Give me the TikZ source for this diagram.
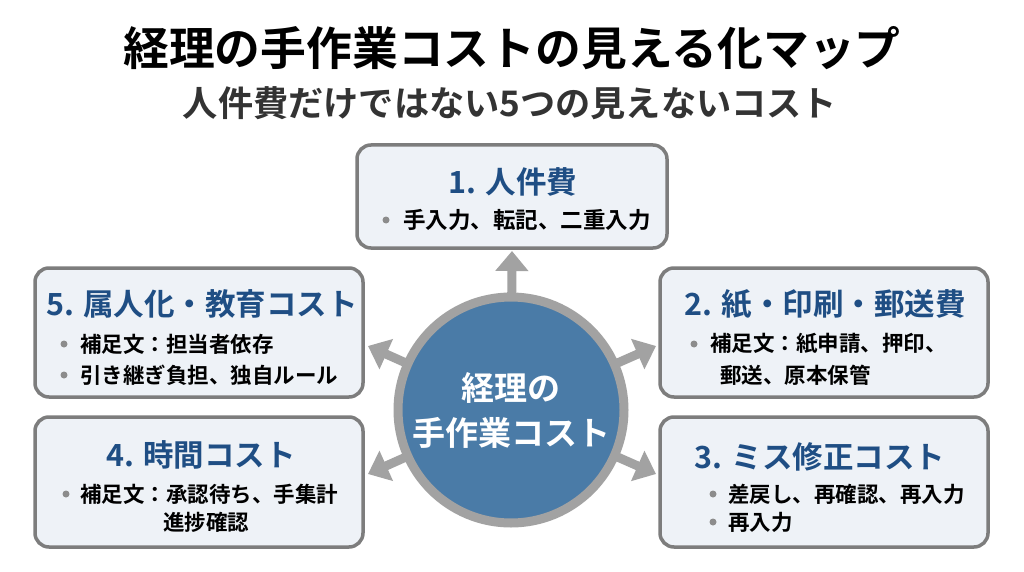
\documentclass[tikz,border=0pt]{standalone}
\usepackage{fontspec}
\setmainfont{Noto Sans CJK JP}[BoldFont={Noto Sans CJK JP Bold}]
\usetikzlibrary{arrows.meta}
\definecolor{boxfill}{HTML}{EEF2F7}
\definecolor{boxline}{HTML}{7D7D7D}
\definecolor{titleblue}{HTML}{1F4E84}
\definecolor{circfill}{HTML}{4A7BA7}
\definecolor{ringgray}{HTML}{A2A2A2}
\definecolor{subgray}{HTML}{333333}
\definecolor{bulletgray}{HTML}{8C8C8C}
\tikzset{
  box/.style={draw=boxline, line width=3.5pt, rounded corners=14pt, fill=boxfill, inner sep=0pt},
  btitle/.style={text=titleblue, font=\bfseries\fontsize{30.5}{34}\selectfont, inner sep=0pt},
  bline/.style={anchor=west, text=black, font=\bfseries\fontsize{21.5}{26}\selectfont, inner sep=0pt},
  arr/.style={draw=ringgray, line width=9pt, -{Triangle[width=32pt,length=20pt]}},
  bul/.style={fill=bulletgray}
}
\begin{document}
\begin{tikzpicture}[x=1pt,y=-1pt]
\useasboundingbox[fill=white] (0,0) rectangle (1024,572);
% headings
\node[font=\bfseries\fontsize{45.8}{50}\selectfont, text=black, inner sep=0pt] (title) at (512,48) {経理の手作業コストの見える化マップ};
\node[font=\bfseries\fontsize{35.2}{40}\selectfont, text=subgray, inner sep=0pt] (subtitle) at (510,103) {人件費だけではない5つの見えないコスト};
% boxes
\node[box, minimum width=310pt, minimum height=103pt] (b1) at (512,196.5) {};
\node[box, minimum width=328pt, minimum height=129pt] (b5) at (199,332.5) {};
\node[box, minimum width=328pt, minimum height=129pt] (b2) at (824,332.5) {};
\node[box, minimum width=328pt, minimum height=130pt] (b4) at (199,482) {};
\node[box, minimum width=328pt, minimum height=130pt] (b3) at (824,482) {};
% box 1
\node[btitle] (t1) at (513,182) {1. 人件費};
\fill[bul] (386,220) circle (3.5);
\node[bline, font=\bfseries\fontsize{22.5}{26}\selectfont] (l11) at (403,220) {手入力、転記、二重入力};
% box 5
\node[btitle] (t5) at (202,304) {5. 属人化・教育コスト};
\fill[bul] (64,344) circle (3.5);
\node[bline] (l51) at (80,344) {補足文：担当者依存};
\fill[bul] (64,375) circle (3.5);
\node[bline] (l52) at (80,375) {引き継ぎ負担、独自ルール};
% box 2
\node[btitle] (t2) at (825,304) {2. 紙・印刷・郵送費};
\fill[bul] (694,344) circle (3.5);
\node[bline] (l21) at (710,344) {補足文：紙申請、押印、};
\node[bline] (l22) at (720,375) {郵送、原本保管};
% box 4
\node[btitle] (t4) at (201,455) {4. 時間コスト};
\fill[bul] (66,494) circle (3.5);
\node[bline] (l41) at (80,494) {補足文：承認待ち、手集計};
\node[bline] (l42) at (163,522) {進捗確認};
% box 3
\node[btitle] (t3) at (820,457) {3. ミス修正コスト};
\fill[bul] (713,494) circle (3.5);
\node[bline] (l31) at (728,494) {差戻し、再確認、再入力};
\fill[bul] (713,522) circle (3.5);
\node[bline] (l32) at (728,522) {再入力};
% centre circle
\node[circle, draw=ringgray, line width=9pt, fill=circfill, minimum size=226pt, inner sep=0pt,
      align=center, text=white, font=\bfseries\fontsize{33}{45}\selectfont] (c) at (511,410) {経理の\\手作業コスト};
% arrow tips
\coordinate (a1) at (512,251);
\coordinate (a5) at (368,346);
\coordinate (a2) at (656,346);
\coordinate (a4) at (368,474);
\coordinate (a3) at (656,474);
\draw[arr, shorten <=-4pt] (c) -- (a1);
\draw[arr, shorten <=-4pt] (c) -- (a5);
\draw[arr, shorten <=-4pt] (c) -- (a2);
\draw[arr, shorten <=-4pt] (c) -- (a4);
\draw[arr, shorten <=-4pt] (c) -- (a3);
\end{tikzpicture}
\end{document}
